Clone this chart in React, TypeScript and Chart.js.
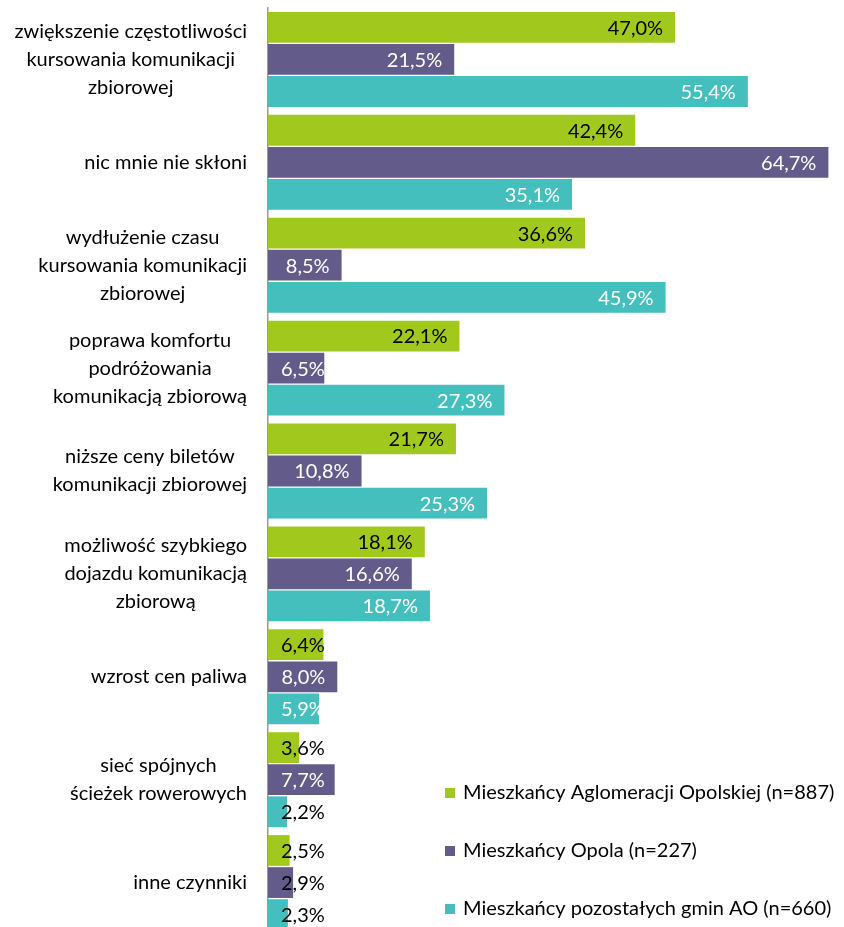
import React, { useEffect, useRef } from "react";
import { Chart, registerables } from "chart.js";

Chart.register(...registerables);

const categories: string[][] = [
  ["zwiększenie częstotliwości", "kursowania komunikacji", "zbiorowej"],
  ["nic mnie nie skłoni"],
  ["wydłużenie czasu", "kursowania komunikacji", "zbiorowej"],
  ["poprawa komfortu", "podróżowania", "komunikacją zbiorową"],
  ["niższe ceny biletów", "komunikacji zbiorowej"],
  ["możliwość szybkiego", "dojazdu komunikacją", "zbiorową"],
  ["wzrost cen paliwa"],
  ["sieć spójnych", "ścieżek rowerowych"],
  ["inne czynniki"],
];

const seriesNames = [
  "Mieszkańcy Aglomeracji Opolskiej (n=887)",
  "Mieszkańcy Opola (n=227)",
  "Mieszkańcy pozostałych gmin AO (n=660)",
];

const aglomeracja = [47.0, 42.4, 36.6, 22.1, 21.7, 18.1, 6.4, 3.6, 2.5];
const opole = [21.5, 64.7, 8.5, 6.5, 10.8, 16.6, 8.0, 7.7, 2.9];
const pozostale = [55.4, 35.1, 45.9, 27.3, 25.3, 18.7, 5.9, 2.2, 2.3];

const colors = ["#a1c91d", "#635c8b", "#45bfbd"];
const labelColors = ["#000000", "#ffffff", "#ffffff"];

const FAMILY = "Lato, 'Open Sans', sans-serif";
const FONT = `20px ${FAMILY}`;

const categoryLabelPlugin = {
  id: "categoryLabels",
  afterDraw(chart: any) {
    const ctx = chart.ctx;
    const y = chart.scales.y;
    const rightEdge = 247;
    const lineH = 28;
    ctx.save();
    ctx.font = FONT;
    ctx.fillStyle = "#000";
    ctx.textBaseline = "middle";
    ctx.textAlign = "center";
    categories.forEach((lines, i) => {
      const cy = y.getPixelForValue(i);
      const widest = Math.max(...lines.map((l) => ctx.measureText(l).width));
      const cx = rightEdge - widest / 2;
      const startY = cy - ((lines.length - 1) * lineH) / 2;
      lines.forEach((l, k) => ctx.fillText(l, cx, startY + k * lineH));
    });
    ctx.restore();
  },
};

const valueLabelPlugin = {
  id: "valueLabels",
  afterDatasetsDraw(chart: any) {
    const ctx = chart.ctx;
    const base = chart.scales.x.getPixelForValue(0);
    ctx.save();
    ctx.font = FONT;
    ctx.textBaseline = "middle";
    ctx.textAlign = "left";
    chart.data.datasets.forEach((ds: any, di: number) => {
      const meta = chart.getDatasetMeta(di);
      meta.data.forEach((el: any, i: number) => {
        const v = ds.data[i] as number;
        const txt = v.toFixed(1).replace(".", ",") + "%";
        const w = ctx.measureText(txt).width;
        const left = Math.max(el.x - 12 - w, base + 13);
        ctx.fillStyle = el.x < left + w / 2 ? "#000000" : labelColors[di];
        ctx.fillText(txt, left, el.y + 1);
      });
    });
    ctx.restore();
  },
};

const legendPlugin = {
  id: "customLegend",
  afterDraw(chart: any) {
    const ctx = chart.ctx;
    ctx.save();
    ctx.font = FONT;
    ctx.textBaseline = "middle";
    ctx.textAlign = "left";
    seriesNames.forEach((name, i) => {
      const cy = 793 + i * 58;
      ctx.fillStyle = colors[i];
      ctx.fillRect(445, cy - 5, 10, 10);
      ctx.fillStyle = "#000";
      ctx.fillText(name, 463, cy);
    });
    ctx.restore();
  },
};

export default function App() {
  const ref = useRef<HTMLCanvasElement | null>(null);

  useEffect(() => {
    if (!ref.current) return;
    const chart = new Chart(ref.current, {
      type: "bar",
      data: {
        labels: categories.map((c) => c.join(" ")),
        datasets: [
          { label: seriesNames[0], data: aglomeracja, backgroundColor: colors[0] },
          { label: seriesNames[1], data: opole, backgroundColor: colors[1] },
          { label: seriesNames[2], data: pozostale, backgroundColor: colors[2] },
        ],
      },
      options: {
        indexAxis: "y",
        responsive: false,
        animation: false,
        devicePixelRatio: 1,
        datasets: {
          bar: { barPercentage: 0.96, categoryPercentage: 0.935 },
        },
        layout: { padding: { top: 8, right: 13, bottom: 0, left: 0 } },
        scales: {
          x: { display: false, min: 0, max: 65 },
          y: {
            grid: { display: false, drawTicks: false },
            border: { display: true, color: "#9a9a9a", width: 1.5 },
            ticks: { display: false },
            afterFit: (s: any) => {
              s.width = 268;
            },
          },
        },
        plugins: {
          legend: { display: false },
          tooltip: { enabled: false },
        },
      },
      plugins: [categoryLabelPlugin, valueLabelPlugin, legendPlugin],
    });
    return () => chart.destroy();
  }, []);

  return (
    <div
      style={{
        position: "fixed",
        left: 0,
        top: 0,
        width: 844,
        height: 927,
        overflow: "hidden",
        background: "#fff",
      }}
    >
      <canvas ref={ref} width={844} height={934} style={{ display: "block" }} />
    </div>
  );
}
